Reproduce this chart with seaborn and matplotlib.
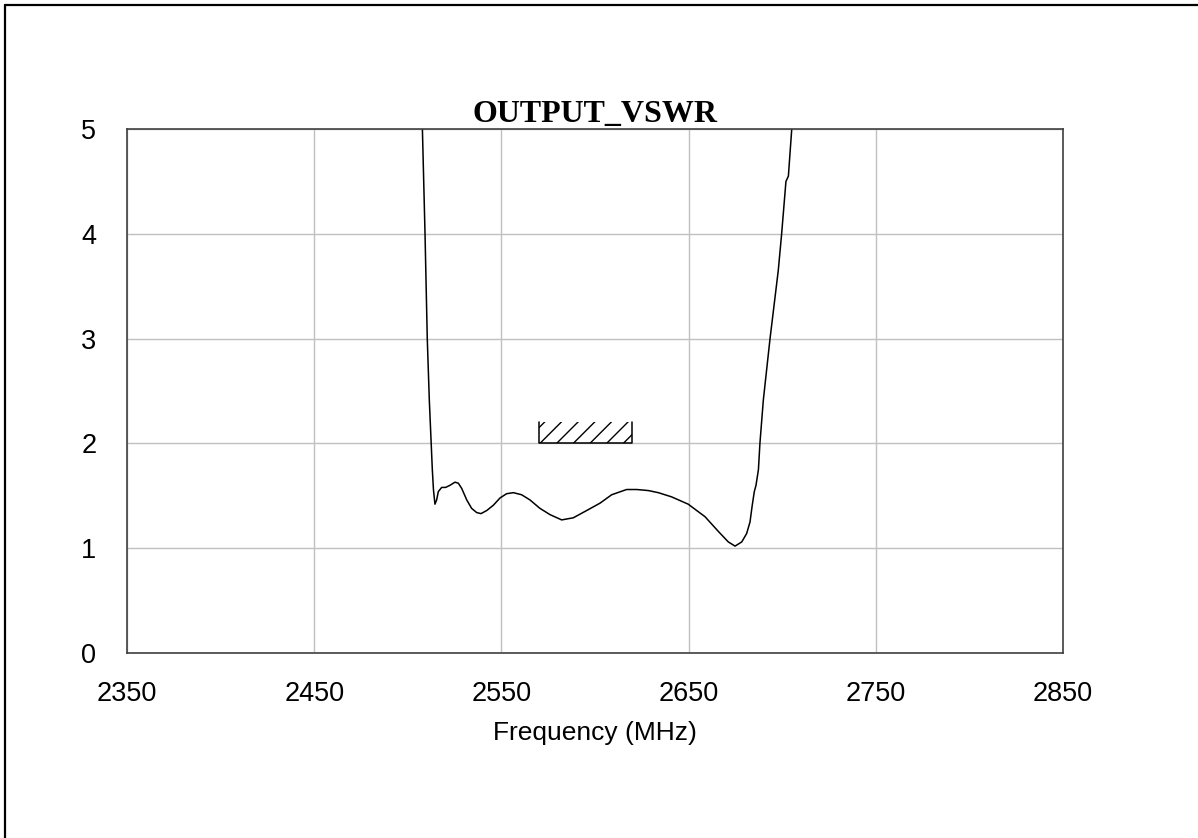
import matplotlib
matplotlib.use("Agg")
import matplotlib.pyplot as plt
from matplotlib.lines import Line2D
import seaborn as sns
import pandas as pd

# ---- data ----
freq_mhz = [2507.5, 2507.8, 2509.2, 2510.4, 2511.5, 2513.1, 2513.7, 2514.5, 2515.4,
            2516.3, 2518.1, 2520.2, 2522.5, 2525.2, 2527.0, 2528.8, 2531.5, 2534.1,
            2536.8, 2539.1, 2542.2, 2545.7, 2549.3, 2552.8, 2556.4, 2560.8, 2565.3,
            2570.6, 2576.0, 2582.2, 2588.4, 2595.6, 2602.7, 2608.9, 2616.9, 2622.3,
            2628.5, 2633.8, 2640.9, 2649.8, 2658.8, 2665.9, 2671.2, 2674.8, 2678.4,
            2681.0, 2682.8, 2684.0, 2685.1, 2686.0, 2687.3, 2688.1, 2689.9, 2693.5,
            2697.9, 2699.7, 2702.0, 2703.3, 2705.1, 2705.4]
vswr = [5.10, 5.00, 4.00, 3.00, 2.41, 1.75, 1.56, 1.42, 1.46,
        1.54, 1.58, 1.58, 1.60, 1.63, 1.62, 1.57, 1.46, 1.38,
        1.34, 1.33, 1.36, 1.41, 1.48, 1.52, 1.53, 1.51, 1.46,
        1.38, 1.32, 1.27, 1.29, 1.36, 1.43, 1.51, 1.56, 1.56,
        1.55, 1.53, 1.49, 1.42, 1.30, 1.16, 1.06, 1.02, 1.06,
        1.14, 1.25, 1.41, 1.54, 1.60, 1.75, 2.00, 2.41, 3.00,
        3.65, 4.00, 4.50, 4.55, 5.00, 5.20]

spec_freq = [2570, 2620]
spec_limit = 2.0
spec_hatch_height = 0.2

x_ticks = [2350, 2450, 2550, 2650, 2750, 2850]
y_ticks = [0, 1, 2, 3, 4, 5]
title = "OUTPUT_VSWR"
x_label = "Frequency (MHz)"

# ---- plot ----
sns.set_style("white")
plt.rcParams["font.family"] = ["Liberation Sans", "DejaVu Sans"]
plt.rcParams["text.color"] = "black"
plt.rcParams["axes.labelcolor"] = "black"

fig = plt.figure(figsize=(11.98, 8.38), dpi=100)
ax = fig.add_axes([127 / 1198, 1 - 653 / 838, (1063 - 127) / 1198, (653 - 129) / 838])

df = pd.DataFrame({"freq": freq_mhz, "vswr": vswr})
sns.lineplot(data=df, x="freq", y="vswr", sort=False, estimator=None,
             color="black", linewidth=1.1, ax=ax)

# spec mask (hatched)
ax.fill_between(spec_freq, [spec_limit] * 2, [spec_limit + spec_hatch_height] * 2,
                facecolor="none", edgecolor="black", hatch="//", linewidth=0)
ax.plot([spec_freq[0], spec_freq[0], spec_freq[1], spec_freq[1]],
        [spec_limit + spec_hatch_height, spec_limit, spec_limit, spec_limit + spec_hatch_height],
        color="black", linewidth=1.1)

ax.set_xlim(x_ticks[0], x_ticks[-1])
ax.set_ylim(y_ticks[0], y_ticks[-1])
ax.set_xticks(x_ticks)
ax.set_yticks(y_ticks)
ax.grid(True, color="#c0c0c0", linewidth=1.0)
ax.set_axisbelow(True)
ax.tick_params(axis="both", length=0, labelsize=19.5, colors="black")
ax.tick_params(axis="x", pad=20)
ax.tick_params(axis="y", pad=22)
for s in ax.spines.values():
    s.set_color("#404040")
    s.set_linewidth(1.2)

ax.set_xlabel(x_label, fontsize=19, labelpad=10, color="black")
ax.set_ylabel("")
ax.set_title(title, fontsize=23, fontweight="bold", color="black",
             family=["Liberation Serif", "DejaVu Serif"], pad=5)

# outer frame (left and top edges visible)
fig.add_artist(Line2D([5 / 1198, 5 / 1198], [0, 1 - 5 / 838], transform=fig.transFigure,
                      color="black", linewidth=1.6))
fig.add_artist(Line2D([5 / 1198, 1], [1 - 5 / 838, 1 - 5 / 838], transform=fig.transFigure,
                      color="black", linewidth=1.6))

fig.savefig("out.png", dpi=100, facecolor="white")
